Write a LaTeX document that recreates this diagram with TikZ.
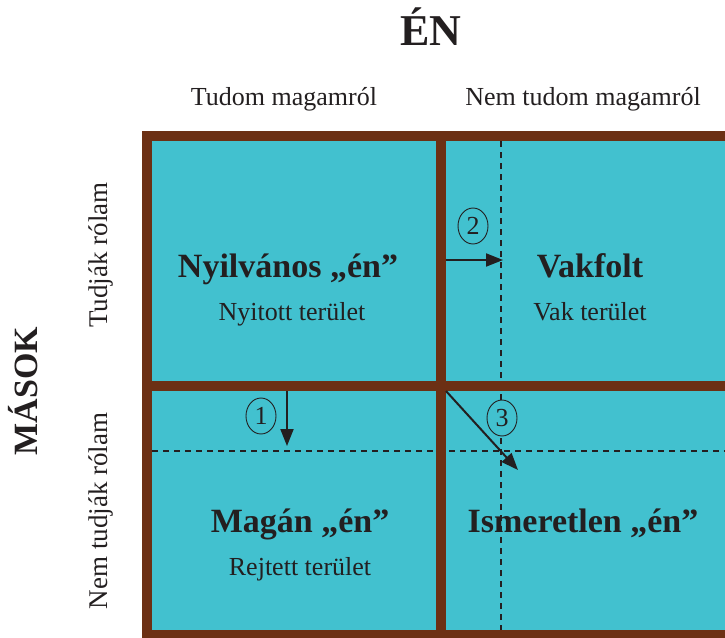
\documentclass[tikz,border=0pt]{standalone}
\usepackage{fontspec}
\setmainfont{Liberation Serif}
\usetikzlibrary{arrows.meta}
\usetikzlibrary{shapes}
\usepackage{xcolor}
\definecolor{barna}{RGB}{108,48,20}
\definecolor{turkiz}{RGB}{66,193,207}
\definecolor{szoveg}{RGB}{35,31,32}

\begin{document}
\begin{tikzpicture}[x=1pt,y=-1pt,every node/.style={text=szoveg,inner sep=0pt},
  cim/.style={font=\fontsize{34}{38}\selectfont\bfseries,anchor=base},
  alcim/.style={font=\fontsize{26}{30}\selectfont,anchor=base},
  szam/.style={ellipse,draw=szoveg,fill=turkiz,line width=0.9pt,minimum width=30pt,minimum height=36pt,
    font=\fontsize{26}{28}\selectfont},
  nyil/.style={draw=szoveg,line width=2pt,-{Triangle[length=17pt,width=13pt]}},
  szagg/.style={draw=szoveg,line width=1.4pt,dash pattern=on 6pt off 5pt}]
\useasboundingbox (0,0) rectangle (725,637);
\clip (0,0) rectangle (725,637);
% the four areas with the frame
\fill[turkiz] (147,136) rectangle (735,635);
\draw[szagg] (501,141) -- (501,630);
\draw[szagg] (152,451) -- (725,451);
\draw[barna,line width=10pt] (147,136) rectangle (735,635);
\draw[barna,line width=10pt] (441,136) -- (441,635);
\draw[barna,line width=10pt] (147,386) -- (735,386);

% headings
\node[font=\fontsize{44}{48}\selectfont\bfseries,anchor=base] (en) at (431,45) {ÉN};
\node[alcim] (tudom) at (284,105) {Tudom magamról};
\node[alcim] (nemtudom) at (583,105) {Nem tudom magamról};
\node[font=\fontsize{34}{38}\selectfont\bfseries,anchor=base,rotate=90] (masok) at (37,391) {MÁSOK};
\node[alcim,font=\fontsize{27}{30}\selectfont,rotate=90] (tudjak) at (107,255) {Tudják rólam};
\node[alcim,font=\fontsize{27}{30}\selectfont,rotate=90] (nemtudjak) at (107,511) {Nem tudják rólam};

% quadrant texts
\node[cim] (nyilt) at (288,277) {Nyilvános „én”};
\node[alcim] (nyiltter) at (292,320) {Nyitott terület};
\node[cim] (vak) at (590,277) {Vakfolt};
\node[alcim] (vakter) at (590,320) {Vak terület};
\node[cim] (magan) at (300,532) {Magán „én”};
\node[alcim] (rejtett) at (300,575) {Rejtett terület};
\node[cim] (ismeretlen) at (583,532) {Ismeretlen „én”};

% movements between the areas
\node[szam] (sz1) at (261,416) {1};
\node[szam] (sz2) at (473,226) {2};
\node[szam] (sz3) at (502,418) {3};
\coordinate (k1) at (287,391);
\coordinate (v1) at (287,446);
\coordinate (k2) at (446,260);
\coordinate (v2) at (503,260);
\coordinate (k3) at (446,391);
\coordinate (v3) at (518,470);
\draw[nyil] (k1) -- (v1);
\draw[nyil] (k2) -- (v2);
\draw[nyil] (k3) -- (v3);
\end{tikzpicture}
\end{document}
